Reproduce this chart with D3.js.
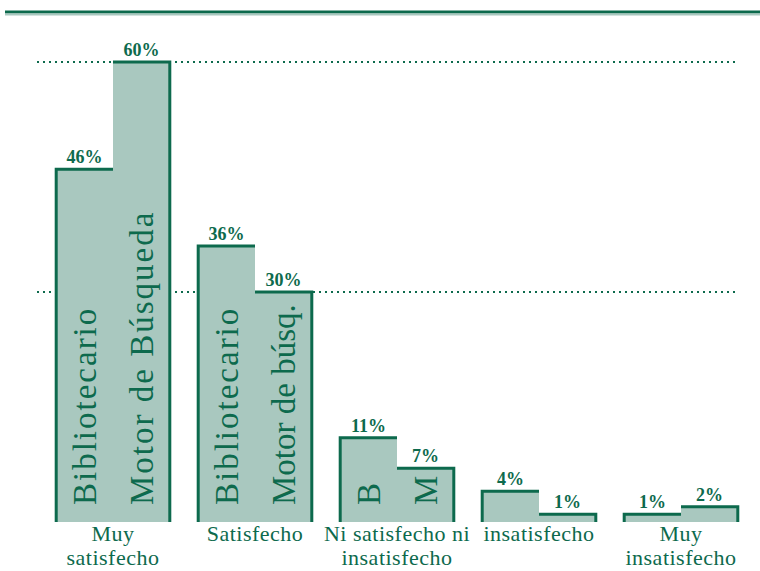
<!DOCTYPE html>
<html>
<head>
<meta charset="utf-8">
<script src="https://cdn.jsdelivr.net/npm/d3@7"></script>
<style>
  html, body { margin: 0; padding: 0; background: #ffffff; }
  svg { display: block; }
</style>
</head>
<body>
<svg id="chart" width="760" height="571"></svg>
<script>
// ---- data ----
const categories = ["Muy satisfecho", "Satisfecho", "Ni satisfecho ni insatisfecho", "insatisfecho", "Muy insatisfecho"];
const categoryLines = [["Muy", "satisfecho"], ["Satisfecho"], ["Ni satisfecho ni", "insatisfecho"], ["insatisfecho"], ["Muy", "insatisfecho"]];
const seriesNames = ["Bibliotecario", "Motor de Búsqueda"];
const bibliotecario = [46, 36, 11, 4, 1];
const motorBusqueda = [60, 30, 7, 1, 2];
const innerLabelsBiblio = ["Bibliotecario", "Bibliotecario", "B", "", ""];
const innerLabelsMotor = ["Motor de Búsqueda", "Motor de búsq.", "M", "", ""];
const gridValues = [30, 60];

// ---- style ----
const dark = "#0d6a4d";
const fill = "#a9c8bf";
const serif = "'Liberation Serif', 'DejaVu Serif', serif";

const svg = d3.select("#chart");

const x = d3.scaleBand().domain(categories).range([42, 752]).paddingInner(0.2).paddingOuter(0.1);
const xs = d3.scaleBand().domain(seriesNames).range([0, x.bandwidth()]).padding(0);
const y = d3.scaleLinear().domain([0, 60]).range([522, 62]);

// header rule
svg.append("line").attr("x1", 5).attr("x2", 760).attr("y1", 12).attr("y2", 12)
  .attr("stroke", dark).attr("stroke-width", 3);
svg.append("line").attr("x1", 5).attr("x2", 760).attr("y1", 14.5).attr("y2", 14.5)
  .attr("stroke", fill).attr("stroke-width", 2);

// gridlines
svg.append("g").selectAll("line").data(gridValues).join("line")
  .attr("x1", 37).attr("x2", 736)
  .attr("y1", d => y(d)).attr("y2", d => y(d))
  .attr("stroke", dark).attr("stroke-width", 2)
  .attr("stroke-dasharray", "2,4");

const rows = categories.map((c, i) => ({
  cat: c, i,
  vals: [
    { s: seriesNames[0], v: bibliotecario[i], inner: innerLabelsBiblio[i] },
    { s: seriesNames[1], v: motorBusqueda[i], inner: innerLabelsMotor[i] }
  ]
}));

const groups = svg.append("g").selectAll("g").data(rows).join("g")
  .attr("transform", d => `translate(${x(d.cat)},0)`);

// bars
groups.selectAll("rect").data(d => d.vals).join("rect")
  .attr("x", d => xs(d.s))
  .attr("width", xs.bandwidth())
  .attr("y", d => y(d.v))
  .attr("height", d => y(0) - y(d.v))
  .attr("fill", fill);

// outlines: outer verticals and tops
groups.append("path")
  .attr("fill", "none").attr("stroke", dark).attr("stroke-width", 3)
  .attr("d", d => {
    const a = d.vals[0], b = d.vals[1];
    const x0 = xs(a.s), xm = xs(b.s), x1 = xm + xs.bandwidth();
    return `M${x0},${y(0)}V${y(a.v)}H${xm}M${xm},${y(b.v)}H${x1}V${y(0)}`;
  });

// inner rotated labels (spaced out when they fit in the bar)
groups.selectAll("text.inner").data(d => d.vals.filter(v => v.inner)).join("text")
  .attr("class", "inner")
  .attr("transform", d => `translate(${xs(d.s) + xs.bandwidth() / 2},${y(0) - 17}) rotate(-90)`)
  .attr("dy", "0.35em")
  .attr("font-family", serif).attr("font-size", 33)
  .attr("letter-spacing", 2)
  .attr("fill", dark)
  .text(d => d.inner)
  .each(function(d) {
    const avail = y(0) - y(d.v) - 25;
    const el = d3.select(this);
    if (this.getComputedTextLength() > avail) el.attr("letter-spacing", 0);
  });

// value labels
groups.selectAll("text.val").data(d => d.vals).join("text")
  .attr("class", "val")
  .attr("x", d => xs(d.s) + xs.bandwidth() / 2)
  .attr("y", d => y(d.v) - 6)
  .attr("text-anchor", "middle")
  .attr("font-family", serif).attr("font-size", 18).attr("font-weight", "bold")
  .attr("fill", dark)
  .text(d => d.v + "%");

// category labels
groups.each(function(d) {
  const t = d3.select(this).append("text")
    .attr("text-anchor", "middle")
    .attr("font-family", serif).attr("font-size", 22)
    .attr("letter-spacing", 0.5)
    .attr("fill", dark);
  categoryLines[d.i].forEach((ln, k) => {
    t.append("tspan").attr("x", x.bandwidth() / 2).attr("y", 541 + k * 24).text(ln);
  });
});
</script>
</body>
</html>
